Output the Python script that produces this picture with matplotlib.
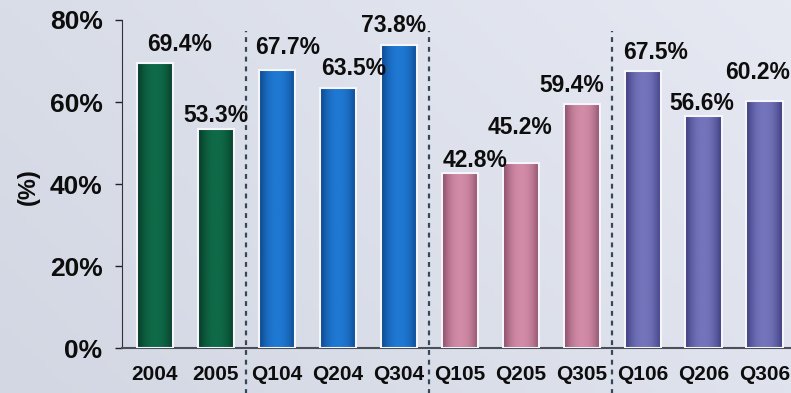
import numpy as np
import matplotlib.pyplot as plt
from matplotlib.colors import LinearSegmentedColormap
import matplotlib.transforms as mtransforms

plt.rcParams['font.family'] = ['Liberation Sans', 'DejaVu Sans']

# Periods and share values (%)
periods = ['2004', '2005', 'Q104', 'Q204', 'Q304', 'Q105', 'Q205', 'Q305',
           'Q106', 'Q206', 'Q306']
share = [69.4, 53.3, 67.7, 63.5, 73.8, 42.8, 45.2, 59.4, 67.5, 56.6, 60.2]
groups = [0, 0, 1, 1, 1, 2, 2, 2, 3, 3, 3]

# (edge, centre) colours for each group of bars
group_colors = [('#063826', '#0f6a48'),
                ('#0b4588', '#1f78d2'),
                ('#874c68', '#d28ba6'),
                ('#3a3a7c', '#7474bc')]

# label nudges in pixels (dx, dy above bar top)
label_nudge = [(25, 19), (0, 14), (11, 23), (16, 19), (-5, 20), (15, 12),
               (-1, 35), (-10, 19), (13, 19), (-2, 12), (-7, 29)]

fig = plt.figure(figsize=(7.91, 3.93), dpi=100)
fig.patch.set_facecolor('#dfe3ee')

# soft backdrop shading
bg = fig.add_axes([0, 0, 1, 1], zorder=-5)
yy, xx = np.mgrid[0:1:60j, 0:1:120j]
shade = 0.5 + 0.5 * xx - 0.25 * yy
bg.imshow(shade, cmap=LinearSegmentedColormap.from_list('bg', ['#ccd1de', '#e6e9f2']),
          aspect='auto', extent=[0, 1, 0, 1], vmin=0, vmax=1)
bg.axis('off')

ax = fig.add_axes([122 / 791, 1 - 348 / 393, 1 - 122 / 791, (348 - 20) / 393])
ax.patch.set_alpha(0)

x = np.arange(len(periods))
bars = ax.bar(x, share, width=0.6, color='none', edgecolor='#f6f6fa',
              linewidth=1.5, zorder=3)

# cylinder-like shading inside each bar
grad = np.abs(np.linspace(-1, 1, 64)) ** 2.2
for bar, g in zip(bars, groups):
    edge, centre = group_colors[g]
    cmap = LinearSegmentedColormap.from_list('b%d' % g, [centre, edge])
    bx, bw, bh = bar.get_x(), bar.get_width(), bar.get_height()
    im = ax.imshow(grad[np.newaxis, :], cmap=cmap, aspect='auto',
                   extent=[bx, bx + bw, 0, bh], vmin=0, vmax=1, zorder=2)
    im.set_clip_path(bar)

for xi, v, (dx, dy) in zip(x, share, label_nudge):
    ax.annotate('%.1f%%' % v, (xi, v), xytext=(dx, dy), textcoords='offset pixels',
                ha='center', va='center', fontsize=16.5, fontweight='bold',
                color='#0d0d0d', zorder=5)

# dashed separators between groups
trans = mtransforms.blended_transform_factory(ax.transData, ax.transAxes)
for sep in [1.5, 4.5, 7.5]:
    ax.plot([sep, sep], [-0.14, 0.965], transform=trans, color='#34485a',
            lw=1.6, ls=(0, (2.2, 2.2)), clip_on=False, zorder=4)

ax.set_xlim(-0.54, 10.43)
ax.set_ylim(0, 80)
ax.set_yticks([0, 20, 40, 60, 80])
ax.set_yticklabels(['0%', '20%', '40%', '60%', '80%'], fontsize=19,
                   fontweight='bold')
ax.set_xticks(x)
ax.set_xticklabels(periods, fontsize=15, fontweight='bold')
ax.tick_params(axis='y', length=5, width=1, pad=9, colors='#222222',
               labelcolor='#0d0d0d')
ax.tick_params(axis='x', length=0, pad=12, labelcolor='#0d0d0d')

for side in ['top', 'right']:
    ax.spines[side].set_visible(False)
ax.spines['left'].set_color('#333333')
ax.spines['bottom'].set_color('#4a4f5a')
ax.spines['bottom'].set_linewidth(1.5)

fig.text(28 / 791, 1 - 187 / 393, '(%)', rotation=90, ha='center', va='center',
         fontsize=17, fontweight='bold', color='#0d0d0d')

fig.savefig('out.png', dpi=100)
